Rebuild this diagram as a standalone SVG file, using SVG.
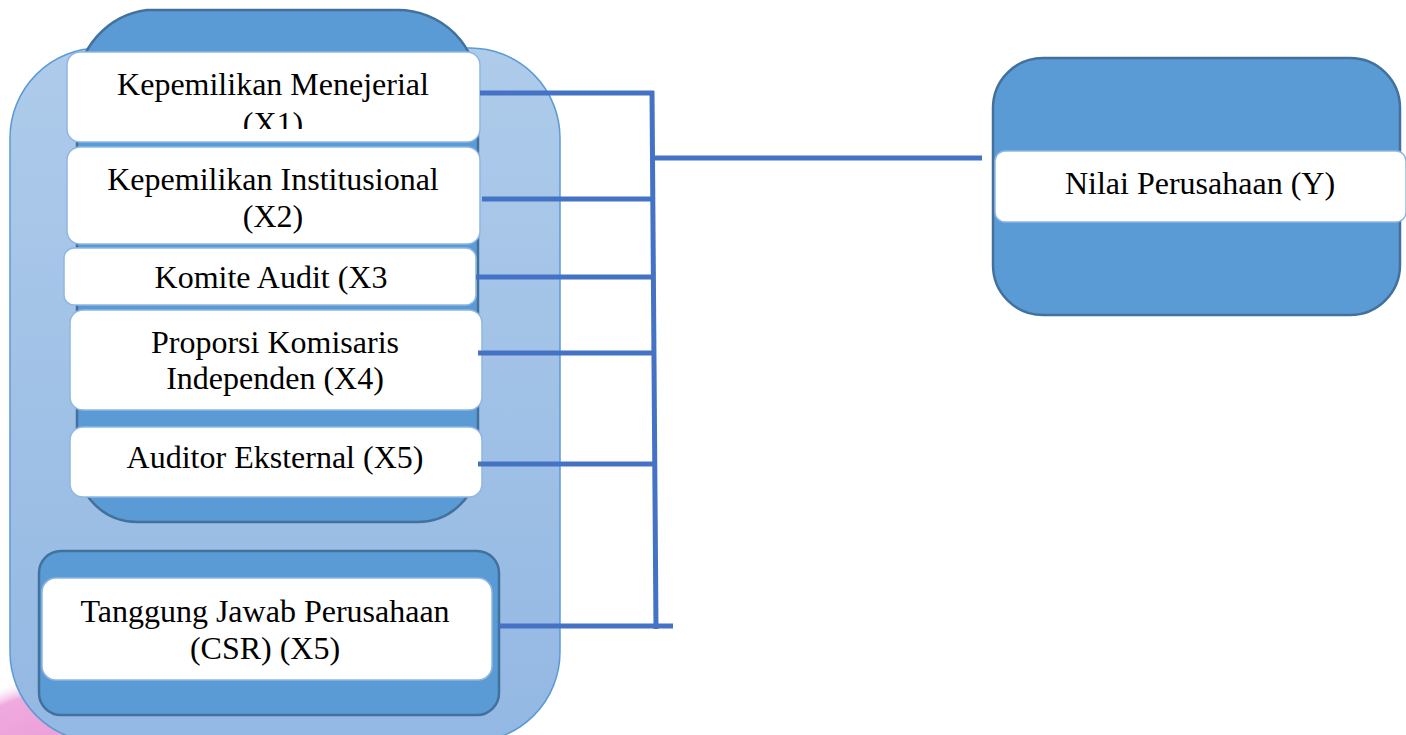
<svg xmlns="http://www.w3.org/2000/svg" width="1406" height="735" viewBox="0 0 1406 735">
<style>
.t{font-family:"Liberation Serif","Times New Roman",serif;font-size:32px;fill:#000;text-anchor:middle}
.w{fill:#fff;stroke:#8fb6e3;stroke-width:1.5}
.blue{fill:#5b9bd5;stroke:#41719c;stroke-width:2.5}
.c{stroke:#4472c4;stroke-width:5;fill:none}
</style>
<defs>
<linearGradient id="lg" x1="0" y1="0" x2="0" y2="1">
<stop offset="0" stop-color="#aecbea"/>
<stop offset="1" stop-color="#93b8e3"/>
</linearGradient>
<radialGradient id="pk" cx="0.5" cy="0.5" r="0.5">
<stop offset="0" stop-color="#ea96d4"/>
<stop offset="0.85" stop-color="#efaade"/>
<stop offset="1" stop-color="#f8dcf0" stop-opacity="0"/>
</radialGradient>
<clipPath id="clipX1"><rect x="60" y="50" width="430" height="79"/></clipPath>
</defs>
<ellipse cx="50" cy="785" rx="120" ry="106" fill="url(#pk)"/>
<g id="outer">
<path d="M100,48 H470 A90,90 0 0 1 560,138 V652 A90,90 0 0 1 470,742 H100 A90,90 0 0 1 10,652 V138 A90,90 0 0 1 100,48 Z" fill="url(#lg)" stroke="#5b9bd5" stroke-width="1.5"/>
</g>
<g id="group-top">
<path class="blue" d="M147,10 H398 A80,80 0 0 1 478,90 V462 A60,60 0 0 1 418,522 H137 A60,60 0 0 1 77,462 V90 A80,80 0 0 1 147,10 Z"/>
</g>
<g id="x1">
<rect class="w" x="67" y="52" width="413" height="90" rx="13"/>
<g clip-path="url(#clipX1)">
<text class="t" x="273" y="95">Kepemilikan Menejerial</text>
<text class="t" x="273" y="134">(X1)</text>
</g>
</g>
<g id="x2">
<rect class="w" x="67" y="147" width="413" height="97" rx="13"/>
<text class="t" x="273" y="190">Kepemilikan Institusional</text>
<text class="t" x="273" y="227">(X2)</text>
</g>
<g id="x3">
<rect class="w" x="64" y="248" width="412" height="57" rx="10"/>
<text class="t" x="271" y="288">Komite Audit (X3</text>
</g>
<g id="x4">
<rect class="w" x="70" y="310" width="412" height="100" rx="13"/>
<text class="t" x="275" y="353">Proporsi Komisaris</text>
<text class="t" x="275" y="389">Independen (X4)</text>
</g>
<g id="x5">
<rect class="w" x="70" y="427" width="412" height="70" rx="13"/>
<text class="t" x="275" y="468">Auditor Eksternal (X5)</text>
</g>
<g id="csr">
<rect class="blue" x="39" y="551" width="460" height="164" rx="22"/>
<rect class="w" x="42" y="578" width="450" height="102" rx="14" stroke="#fff"/>
<text class="t" x="265" y="622">Tanggung Jawab Perusahaan</text>
<text class="t" x="265" y="659">(CSR) (X5)</text>
</g>
<g id="y">
<rect class="blue" x="993" y="58" width="407" height="257" rx="50"/>
<rect class="w" x="995" y="151" width="411" height="71" rx="10"/>
<text class="t" x="1200" y="194">Nilai Perusahaan (Y)</text>
</g>
<g id="connectors">
<path class="c" d="M480,93 H654"/>
<path class="c" d="M652,91 L656,629"/>
<path class="c" d="M482,199 H653"/>
<path class="c" d="M476,277 H654"/>
<path class="c" d="M478,353 H655"/>
<path class="c" d="M478,464 H655"/>
<path class="c" d="M499,626 H673"/>
<path class="c" d="M655,158 H982"/>
</g>
</svg>
